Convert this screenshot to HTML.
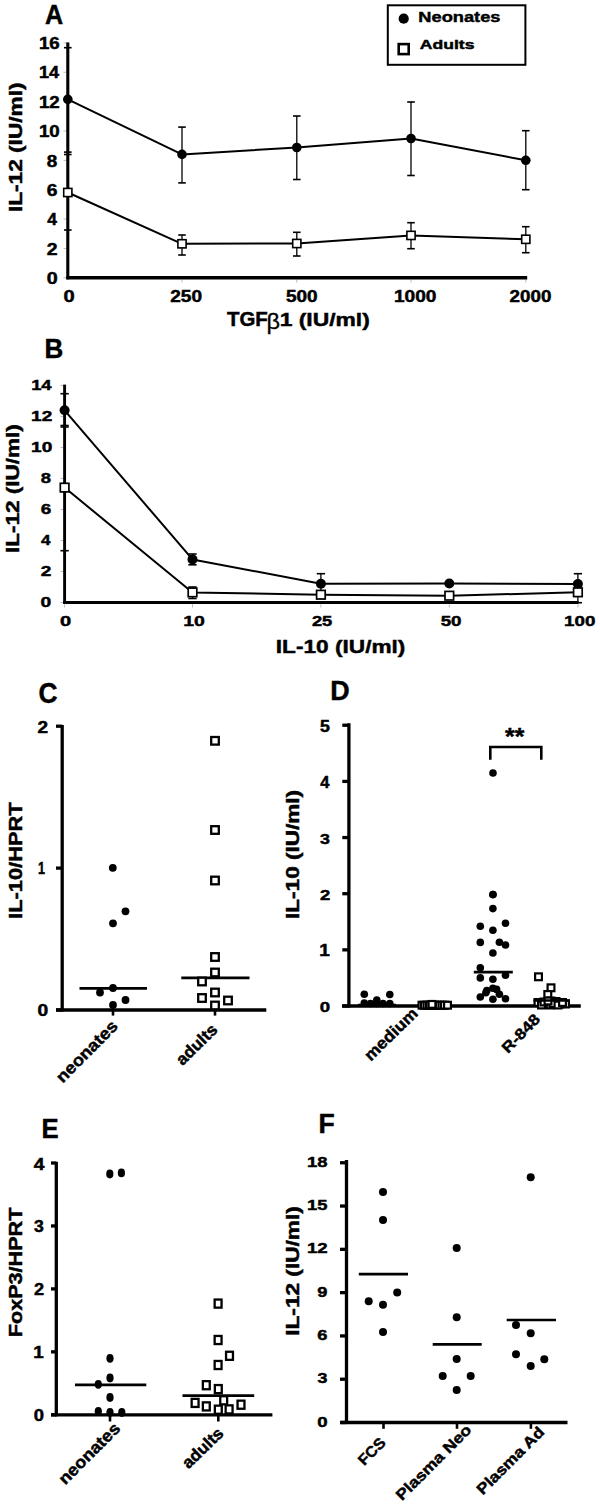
<!DOCTYPE html>
<html><head><meta charset="utf-8"><style>
html,body{margin:0;padding:0;background:#fff;}
svg{display:block;}
text{font-family:"Liberation Sans",Arial,sans-serif;font-weight:bold;fill:#000;stroke:#000;stroke-width:0.45px;}
</style></head><body>
<svg width="600" height="1507" viewBox="0 0 600 1507">
<rect width="600" height="1507" fill="#fff"/>
<text transform="translate(45.10,24.00) scale(0.9355,1)" font-size="26.88">A</text>
<line x1="63.50" y1="277.80" x2="66.50" y2="277.80" stroke="#bbb" stroke-width="1"/>
<line x1="63.50" y1="248.44" x2="66.50" y2="248.44" stroke="#bbb" stroke-width="1"/>
<line x1="63.50" y1="219.08" x2="66.50" y2="219.08" stroke="#bbb" stroke-width="1"/>
<line x1="63.50" y1="189.72" x2="66.50" y2="189.72" stroke="#bbb" stroke-width="1"/>
<line x1="63.50" y1="160.36" x2="66.50" y2="160.36" stroke="#bbb" stroke-width="1"/>
<line x1="63.50" y1="131.00" x2="66.50" y2="131.00" stroke="#bbb" stroke-width="1"/>
<line x1="63.50" y1="101.64" x2="66.50" y2="101.64" stroke="#bbb" stroke-width="1"/>
<line x1="63.50" y1="72.28" x2="66.50" y2="72.28" stroke="#bbb" stroke-width="1"/>
<line x1="63.50" y1="42.92" x2="66.50" y2="42.92" stroke="#bbb" stroke-width="1"/>
<line x1="182.00" y1="279.50" x2="182.00" y2="282.50" stroke="#bbb" stroke-width="1"/>
<line x1="296.80" y1="279.50" x2="296.80" y2="282.50" stroke="#bbb" stroke-width="1"/>
<line x1="411.00" y1="279.50" x2="411.00" y2="282.50" stroke="#bbb" stroke-width="1"/>
<line x1="525.80" y1="279.50" x2="525.80" y2="282.50" stroke="#bbb" stroke-width="1"/>
<text transform="translate(46.64,284.00) scale(1.2358,1)" font-size="15.93">0</text>
<text transform="translate(46.74,254.64) scale(1.2229,1)" font-size="15.93">2</text>
<text transform="translate(47.16,225.28) scale(1.0815,1)" font-size="16.16">4</text>
<text transform="translate(46.75,195.92) scale(1.2103,1)" font-size="15.93">6</text>
<text transform="translate(46.86,166.56) scale(1.1858,1)" font-size="15.93">8</text>
<text transform="translate(38.91,137.00) scale(1.1775,1)" font-size="15.93">10</text>
<text transform="translate(38.91,107.64) scale(1.1775,1)" font-size="15.93">12</text>
<text transform="translate(38.95,78.28) scale(1.1216,1)" font-size="16.16">14</text>
<text transform="translate(38.91,48.92) scale(1.1717,1)" font-size="15.93">16</text>
<text transform="translate(63.42,301.80) scale(1.2400,1)" font-size="16.21">0</text>
<text transform="translate(170.26,301.80) scale(1.1772,1)" font-size="16.21">250</text>
<text transform="translate(285.95,301.80) scale(1.1735,1)" font-size="16.21">500</text>
<text transform="translate(393.98,301.80) scale(1.1797,1)" font-size="16.21">1000</text>
<text transform="translate(509.56,301.80) scale(1.1632,1)" font-size="16.21">2000</text>
<line x1="67.80" y1="42.40" x2="67.80" y2="279.30" stroke="#000" stroke-width="3.1"/>
<line x1="66.30" y1="277.80" x2="527.20" y2="277.80" stroke="#000" stroke-width="3.4"/>
<line x1="67.80" y1="47.70" x2="67.80" y2="152.10" stroke="#000" stroke-width="1.3"/>
<line x1="64.00" y1="47.70" x2="71.60" y2="47.70" stroke="#000" stroke-width="1.6"/>
<line x1="64.00" y1="152.10" x2="71.60" y2="152.10" stroke="#000" stroke-width="1.6"/>
<line x1="182.00" y1="127.10" x2="182.00" y2="182.90" stroke="#000" stroke-width="1.3"/>
<line x1="178.20" y1="127.10" x2="185.80" y2="127.10" stroke="#000" stroke-width="1.6"/>
<line x1="178.20" y1="182.90" x2="185.80" y2="182.90" stroke="#000" stroke-width="1.6"/>
<line x1="296.80" y1="116.00" x2="296.80" y2="179.50" stroke="#000" stroke-width="1.3"/>
<line x1="293.00" y1="116.00" x2="300.60" y2="116.00" stroke="#000" stroke-width="1.6"/>
<line x1="293.00" y1="179.50" x2="300.60" y2="179.50" stroke="#000" stroke-width="1.6"/>
<line x1="411.00" y1="102.00" x2="411.00" y2="175.50" stroke="#000" stroke-width="1.3"/>
<line x1="407.20" y1="102.00" x2="414.80" y2="102.00" stroke="#000" stroke-width="1.6"/>
<line x1="407.20" y1="175.50" x2="414.80" y2="175.50" stroke="#000" stroke-width="1.6"/>
<line x1="525.80" y1="130.70" x2="525.80" y2="189.70" stroke="#000" stroke-width="1.3"/>
<line x1="522.00" y1="130.70" x2="529.60" y2="130.70" stroke="#000" stroke-width="1.6"/>
<line x1="522.00" y1="189.70" x2="529.60" y2="189.70" stroke="#000" stroke-width="1.6"/>
<line x1="67.80" y1="154.50" x2="67.80" y2="230.00" stroke="#000" stroke-width="1.3"/>
<line x1="64.00" y1="154.50" x2="71.60" y2="154.50" stroke="#000" stroke-width="1.6"/>
<line x1="64.00" y1="230.00" x2="71.60" y2="230.00" stroke="#000" stroke-width="1.6"/>
<line x1="182.00" y1="235.00" x2="182.00" y2="255.00" stroke="#000" stroke-width="1.3"/>
<line x1="178.20" y1="235.00" x2="185.80" y2="235.00" stroke="#000" stroke-width="1.6"/>
<line x1="178.20" y1="255.00" x2="185.80" y2="255.00" stroke="#000" stroke-width="1.6"/>
<line x1="296.80" y1="232.30" x2="296.80" y2="256.00" stroke="#000" stroke-width="1.3"/>
<line x1="293.00" y1="232.30" x2="300.60" y2="232.30" stroke="#000" stroke-width="1.6"/>
<line x1="293.00" y1="256.00" x2="300.60" y2="256.00" stroke="#000" stroke-width="1.6"/>
<line x1="411.00" y1="222.70" x2="411.00" y2="248.70" stroke="#000" stroke-width="1.3"/>
<line x1="407.20" y1="222.70" x2="414.80" y2="222.70" stroke="#000" stroke-width="1.6"/>
<line x1="407.20" y1="248.70" x2="414.80" y2="248.70" stroke="#000" stroke-width="1.6"/>
<line x1="525.80" y1="226.70" x2="525.80" y2="252.70" stroke="#000" stroke-width="1.3"/>
<line x1="522.00" y1="226.70" x2="529.60" y2="226.70" stroke="#000" stroke-width="1.6"/>
<line x1="522.00" y1="252.70" x2="529.60" y2="252.70" stroke="#000" stroke-width="1.6"/>
<polyline fill="none" stroke="#000" stroke-width="2" stroke-linejoin="round" points="67.80,99.30 182.00,154.40 296.80,147.50 411.00,138.50 525.80,160.30"/>
<polyline fill="none" stroke="#000" stroke-width="2" stroke-linejoin="round" points="67.80,192.50 182.00,243.80 296.80,243.50 411.00,235.40 525.80,239.30"/>
<circle cx="67.80" cy="99.30" r="4.8"/>
<circle cx="182.00" cy="154.40" r="4.8"/>
<circle cx="296.80" cy="147.50" r="4.8"/>
<circle cx="411.00" cy="138.50" r="4.8"/>
<circle cx="525.80" cy="160.30" r="4.8"/>
<rect x="63.70" y="188.40" width="8.20" height="8.20" fill="#fff" stroke="#000" stroke-width="1.6"/>
<rect x="177.90" y="239.70" width="8.20" height="8.20" fill="#fff" stroke="#000" stroke-width="1.6"/>
<rect x="292.70" y="239.40" width="8.20" height="8.20" fill="#fff" stroke="#000" stroke-width="1.6"/>
<rect x="406.90" y="231.30" width="8.20" height="8.20" fill="#fff" stroke="#000" stroke-width="1.6"/>
<rect x="521.70" y="235.20" width="8.20" height="8.20" fill="#fff" stroke="#000" stroke-width="1.6"/>
<text transform="translate(226.92,326.30) scale(1.0557,1)" font-size="19.36">TGF</text>
<text transform="translate(266.6,329.3) scale(1.07,1)" font-family="Liberation Serif, serif" font-size="22" style="font-weight:normal;stroke-width:0.3px">&#946;</text>
<text transform="translate(279.64,326.30) scale(1.2245,1)" font-size="18.69">1 (IU/ml)</text>
<text transform="translate(21.90,210.58) rotate(-90) scale(1.2208,1)" x="-1.21" font-size="18.55">IL-12 (IU/ml)</text>
<rect x="387.8" y="5.3" width="137.6" height="59.5" fill="none" stroke="#000" stroke-width="2"/>
<circle cx="403.70" cy="18.70" r="5.1"/>
<rect x="398.70" y="44.10" width="10.00" height="10.00" fill="#fff" stroke="#000" stroke-width="2.6"/>
<text transform="translate(418.34,22.20) scale(1.2056,1)" font-size="15.14">Neonates</text>
<text transform="translate(419.79,48.90) scale(1.3077,1)" font-size="13.45">Adults</text>
<text transform="translate(44.54,358.00) scale(0.9411,1)" font-size="27.61">B</text>
<line x1="60.50" y1="602.50" x2="63.50" y2="602.50" stroke="#bbb" stroke-width="1"/>
<line x1="60.50" y1="571.50" x2="63.50" y2="571.50" stroke="#bbb" stroke-width="1"/>
<line x1="60.50" y1="540.50" x2="63.50" y2="540.50" stroke="#bbb" stroke-width="1"/>
<line x1="60.50" y1="509.50" x2="63.50" y2="509.50" stroke="#bbb" stroke-width="1"/>
<line x1="60.50" y1="478.50" x2="63.50" y2="478.50" stroke="#bbb" stroke-width="1"/>
<line x1="60.50" y1="447.50" x2="63.50" y2="447.50" stroke="#bbb" stroke-width="1"/>
<line x1="60.50" y1="416.50" x2="63.50" y2="416.50" stroke="#bbb" stroke-width="1"/>
<line x1="60.50" y1="385.50" x2="63.50" y2="385.50" stroke="#bbb" stroke-width="1"/>
<line x1="64.60" y1="604.20" x2="64.60" y2="607.50" stroke="#bbb" stroke-width="1"/>
<line x1="192.50" y1="604.20" x2="192.50" y2="607.50" stroke="#bbb" stroke-width="1"/>
<line x1="320.90" y1="604.20" x2="320.90" y2="607.50" stroke="#bbb" stroke-width="1"/>
<line x1="449.30" y1="604.20" x2="449.30" y2="607.50" stroke="#bbb" stroke-width="1"/>
<line x1="577.90" y1="604.20" x2="577.90" y2="607.50" stroke="#bbb" stroke-width="1"/>
<text transform="translate(40.55,607.25) scale(1.2904,1)" font-size="14.93">0</text>
<text transform="translate(40.66,576.25) scale(1.2769,1)" font-size="14.93">2</text>
<text transform="translate(41.07,545.25) scale(1.1293,1)" font-size="15.14">4</text>
<text transform="translate(40.66,514.25) scale(1.2637,1)" font-size="14.93">6</text>
<text transform="translate(40.77,483.25) scale(1.2382,1)" font-size="14.93">8</text>
<text transform="translate(31.09,452.25) scale(1.2764,1)" font-size="14.93">10</text>
<text transform="translate(31.09,421.25) scale(1.2764,1)" font-size="14.93">12</text>
<text transform="translate(31.13,390.25) scale(1.2158,1)" font-size="15.14">14</text>
<text transform="translate(59.92,626.40) scale(1.3215,1)" font-size="15.21">0</text>
<text transform="translate(183.26,626.40) scale(1.2786,1)" font-size="15.21">10</text>
<text transform="translate(311.88,626.40) scale(1.2050,1)" font-size="15.21">25</text>
<text transform="translate(440.66,626.40) scale(1.2356,1)" font-size="15.21">50</text>
<text transform="translate(564.11,626.40) scale(1.2324,1)" font-size="15.21">100</text>
<line x1="64.60" y1="384.60" x2="64.60" y2="603.80" stroke="#000" stroke-width="2.9"/>
<line x1="63.20" y1="602.50" x2="578.50" y2="602.50" stroke="#000" stroke-width="3.0"/>
<line x1="64.60" y1="393.70" x2="64.60" y2="427.00" stroke="#000" stroke-width="1.3"/>
<line x1="60.45" y1="393.70" x2="68.75" y2="393.70" stroke="#000" stroke-width="1.6"/>
<line x1="60.45" y1="427.00" x2="68.75" y2="427.00" stroke="#000" stroke-width="1.6"/>
<line x1="192.50" y1="554.00" x2="192.50" y2="564.80" stroke="#000" stroke-width="1.3"/>
<line x1="188.35" y1="554.00" x2="196.65" y2="554.00" stroke="#000" stroke-width="1.6"/>
<line x1="188.35" y1="564.80" x2="196.65" y2="564.80" stroke="#000" stroke-width="1.6"/>
<line x1="320.90" y1="573.70" x2="320.90" y2="593.70" stroke="#000" stroke-width="1.3"/>
<line x1="316.75" y1="573.70" x2="325.05" y2="573.70" stroke="#000" stroke-width="1.6"/>
<line x1="316.75" y1="593.70" x2="325.05" y2="593.70" stroke="#000" stroke-width="1.6"/>
<line x1="577.90" y1="573.70" x2="577.90" y2="594.30" stroke="#000" stroke-width="1.3"/>
<line x1="573.75" y1="573.70" x2="582.05" y2="573.70" stroke="#000" stroke-width="1.6"/>
<line x1="573.75" y1="594.30" x2="582.05" y2="594.30" stroke="#000" stroke-width="1.6"/>
<line x1="64.60" y1="425.50" x2="64.60" y2="550.70" stroke="#000" stroke-width="1.3"/>
<line x1="60.45" y1="425.50" x2="68.75" y2="425.50" stroke="#000" stroke-width="1.6"/>
<line x1="60.45" y1="550.70" x2="68.75" y2="550.70" stroke="#000" stroke-width="1.6"/>
<line x1="192.50" y1="587.00" x2="192.50" y2="598.50" stroke="#000" stroke-width="1.3"/>
<line x1="188.35" y1="587.00" x2="196.65" y2="587.00" stroke="#000" stroke-width="1.6"/>
<line x1="188.35" y1="598.50" x2="196.65" y2="598.50" stroke="#000" stroke-width="1.6"/>
<line x1="320.90" y1="591.00" x2="320.90" y2="598.50" stroke="#000" stroke-width="1.3"/>
<line x1="316.75" y1="591.00" x2="325.05" y2="591.00" stroke="#000" stroke-width="1.6"/>
<line x1="316.75" y1="598.50" x2="325.05" y2="598.50" stroke="#000" stroke-width="1.6"/>
<line x1="577.90" y1="582.00" x2="577.90" y2="602.70" stroke="#000" stroke-width="1.3"/>
<line x1="573.75" y1="582.00" x2="582.05" y2="582.00" stroke="#000" stroke-width="1.6"/>
<line x1="573.75" y1="602.70" x2="582.05" y2="602.70" stroke="#000" stroke-width="1.6"/>
<polyline fill="none" stroke="#000" stroke-width="2" stroke-linejoin="round" points="64.60,410.30 192.50,559.40 320.90,583.70 449.30,583.50 577.90,584.00"/>
<polyline fill="none" stroke="#000" stroke-width="2" stroke-linejoin="round" points="64.60,487.60 192.50,592.40 320.90,594.70 449.30,595.70 577.90,592.30"/>
<circle cx="64.60" cy="410.30" r="5.0"/>
<circle cx="192.50" cy="559.40" r="5.0"/>
<circle cx="320.90" cy="583.70" r="5.0"/>
<circle cx="449.30" cy="583.50" r="5.0"/>
<circle cx="577.90" cy="584.00" r="5.0"/>
<rect x="60.30" y="483.30" width="8.60" height="8.60" fill="#fff" stroke="#000" stroke-width="1.7"/>
<rect x="188.20" y="588.10" width="8.60" height="8.60" fill="#fff" stroke="#000" stroke-width="1.7"/>
<rect x="316.60" y="590.40" width="8.60" height="8.60" fill="#fff" stroke="#000" stroke-width="1.7"/>
<rect x="445.00" y="591.40" width="8.60" height="8.60" fill="#fff" stroke="#000" stroke-width="1.7"/>
<rect x="573.60" y="588.00" width="8.60" height="8.60" fill="#fff" stroke="#000" stroke-width="1.7"/>
<text transform="translate(275.75,653.30) scale(1.2127,1)" font-size="18.69">IL-10 (IU/ml)</text>
<text transform="translate(18.90,551.48) rotate(-90) scale(1.2231,1)" x="-1.20" font-size="18.41">IL-12 (IU/ml)</text>
<text transform="translate(38.47,703.20) scale(0.9104,1)" font-size="28.93">C</text>
<text transform="translate(37.45,1016.30) scale(1.2093,1)" font-size="15.93">0</text>
<line x1="56.00" y1="1010.00" x2="62.20" y2="1010.00" stroke="#000" stroke-width="3.3"/>
<text transform="translate(38.11,874.20) scale(0.7785,1)" font-size="16.16">1</text>
<line x1="56.00" y1="868.10" x2="62.20" y2="868.10" stroke="#000" stroke-width="3.3"/>
<text transform="translate(37.56,732.50) scale(1.1967,1)" font-size="15.93">2</text>
<line x1="56.00" y1="726.20" x2="62.20" y2="726.20" stroke="#000" stroke-width="3.3"/>
<line x1="62.20" y1="725.00" x2="62.20" y2="1011.50" stroke="#000" stroke-width="3.3"/>
<line x1="56.00" y1="1010.00" x2="266.30" y2="1010.00" stroke="#000" stroke-width="3.3"/>
<line x1="113.00" y1="1010.00" x2="113.00" y2="1015.60" stroke="#000" stroke-width="2.6"/>
<line x1="215.00" y1="1010.00" x2="215.00" y2="1015.60" stroke="#000" stroke-width="2.6"/>
<line x1="79.50" y1="988.30" x2="147.00" y2="988.30" stroke="#000" stroke-width="2.7"/>
<line x1="181.30" y1="977.80" x2="249.50" y2="977.80" stroke="#000" stroke-width="2.7"/>
<circle cx="112.80" cy="867.80" r="3.9"/>
<circle cx="125.50" cy="911.30" r="3.9"/>
<circle cx="113.00" cy="923.30" r="3.9"/>
<circle cx="100.00" cy="992.50" r="3.9"/>
<circle cx="113.00" cy="988.00" r="3.9"/>
<circle cx="125.50" cy="1000.00" r="3.9"/>
<circle cx="113.00" cy="1005.00" r="3.9"/>
<rect x="211.20" y="737.00" width="7.60" height="7.60" fill="#fff" stroke="#000" stroke-width="2.3"/>
<rect x="211.20" y="826.20" width="7.60" height="7.60" fill="#fff" stroke="#000" stroke-width="2.3"/>
<rect x="211.20" y="876.70" width="7.60" height="7.60" fill="#fff" stroke="#000" stroke-width="2.3"/>
<rect x="211.20" y="953.20" width="7.60" height="7.60" fill="#fff" stroke="#000" stroke-width="2.3"/>
<rect x="211.20" y="968.70" width="7.60" height="7.60" fill="#fff" stroke="#000" stroke-width="2.3"/>
<rect x="198.20" y="977.70" width="7.60" height="7.60" fill="#fff" stroke="#000" stroke-width="2.3"/>
<rect x="211.20" y="988.70" width="7.60" height="7.60" fill="#fff" stroke="#000" stroke-width="2.3"/>
<rect x="198.20" y="994.20" width="7.60" height="7.60" fill="#fff" stroke="#000" stroke-width="2.3"/>
<rect x="224.20" y="996.70" width="7.60" height="7.60" fill="#fff" stroke="#000" stroke-width="2.3"/>
<rect x="211.20" y="1001.70" width="7.60" height="7.60" fill="#fff" stroke="#000" stroke-width="2.3"/>
<text transform="translate(22.00,917.48) rotate(-90) scale(1.2095,1)" x="-1.17" font-size="18.07">IL-10/HPRT</text>
<text transform="translate(63.60,1082.80) rotate(-45.21) scale(1.0805,1)" x="-1.09" font-size="16.80">neonates</text>
<text transform="translate(182.80,1065.80) rotate(-44.18) scale(1.0220,1)" x="-0.50" font-size="16.80">adults</text>
<text transform="translate(330.18,700.30) scale(0.9498,1)" font-size="28.33">D</text>
<text transform="translate(319.78,1012.40) scale(1.2132,1)" font-size="15.36">0</text>
<line x1="342.30" y1="1006.00" x2="348.90" y2="1006.00" stroke="#000" stroke-width="3.3"/>
<text transform="translate(319.29,956.25) scale(1.2216,1)" font-size="15.58">1</text>
<line x1="342.30" y1="949.85" x2="348.90" y2="949.85" stroke="#000" stroke-width="3.3"/>
<text transform="translate(319.88,900.10) scale(1.2006,1)" font-size="15.36">2</text>
<line x1="342.30" y1="893.70" x2="348.90" y2="893.70" stroke="#000" stroke-width="3.3"/>
<text transform="translate(320.08,843.95) scale(1.1642,1)" font-size="15.36">3</text>
<line x1="342.30" y1="837.55" x2="348.90" y2="837.55" stroke="#000" stroke-width="3.3"/>
<text transform="translate(320.28,787.80) scale(1.0618,1)" font-size="15.58">4</text>
<line x1="342.30" y1="781.40" x2="348.90" y2="781.40" stroke="#000" stroke-width="3.3"/>
<text transform="translate(319.99,731.65) scale(1.1361,1)" font-size="15.58">5</text>
<line x1="342.30" y1="725.25" x2="348.90" y2="725.25" stroke="#000" stroke-width="3.3"/>
<line x1="348.90" y1="723.30" x2="348.90" y2="1007.50" stroke="#000" stroke-width="3.3"/>
<line x1="342.00" y1="1006.00" x2="580.80" y2="1006.00" stroke="#000" stroke-width="3.3"/>
<polyline fill="none" stroke="#000" stroke-width="2.6" points="490.3,759.7 490.3,747.0 541.3,747.0 541.3,759.7"/>
<text transform="translate(505.10,744.89) scale(1.0004,1)" font-size="24.73">**</text>
<circle cx="364.30" cy="994.20" r="3.8"/>
<circle cx="389.80" cy="994.50" r="3.8"/>
<circle cx="364.30" cy="1003.00" r="3.8"/>
<circle cx="370.50" cy="1003.50" r="3.8"/>
<circle cx="376.80" cy="1000.00" r="3.8"/>
<circle cx="383.00" cy="1003.50" r="3.8"/>
<circle cx="389.80" cy="1003.50" r="3.8"/>
<circle cx="376.80" cy="1003.50" r="3.8"/>
<line x1="358.00" y1="1005.00" x2="396.00" y2="1005.00" stroke="#000" stroke-width="2.7"/>
<rect x="418.60" y="1001.80" width="6.80" height="6.80" fill="#fff" stroke="#000" stroke-width="2.2"/>
<rect x="421.10" y="1001.80" width="6.80" height="6.80" fill="#fff" stroke="#000" stroke-width="2.2"/>
<rect x="423.60" y="1001.80" width="6.80" height="6.80" fill="#fff" stroke="#000" stroke-width="2.2"/>
<rect x="426.10" y="1001.80" width="6.80" height="6.80" fill="#fff" stroke="#000" stroke-width="2.2"/>
<rect x="428.60" y="1001.80" width="6.80" height="6.80" fill="#fff" stroke="#000" stroke-width="2.2"/>
<rect x="431.10" y="1001.80" width="6.80" height="6.80" fill="#fff" stroke="#000" stroke-width="2.2"/>
<rect x="433.60" y="1001.80" width="6.80" height="6.80" fill="#fff" stroke="#000" stroke-width="2.2"/>
<rect x="436.10" y="1001.80" width="6.80" height="6.80" fill="#fff" stroke="#000" stroke-width="2.2"/>
<rect x="438.60" y="1001.80" width="6.80" height="6.80" fill="#fff" stroke="#000" stroke-width="2.2"/>
<rect x="441.10" y="1001.80" width="6.80" height="6.80" fill="#fff" stroke="#000" stroke-width="2.2"/>
<rect x="444.10" y="1001.80" width="6.80" height="6.80" fill="#fff" stroke="#000" stroke-width="2.2"/>
<rect x="428.60" y="1001.00" width="6.80" height="6.80" fill="#fff" stroke="#000" stroke-width="2.2"/>
<circle cx="492.90" cy="894.50" r="3.8"/>
<circle cx="492.90" cy="908.60" r="3.8"/>
<circle cx="480.30" cy="926.20" r="3.8"/>
<circle cx="505.50" cy="923.30" r="3.8"/>
<circle cx="492.90" cy="930.30" r="3.8"/>
<circle cx="480.30" cy="942.40" r="3.8"/>
<circle cx="499.40" cy="942.20" r="3.8"/>
<circle cx="505.50" cy="945.00" r="3.8"/>
<circle cx="492.90" cy="953.00" r="3.8"/>
<circle cx="480.30" cy="967.80" r="3.8"/>
<circle cx="480.30" cy="977.90" r="3.8"/>
<circle cx="492.90" cy="979.20" r="3.8"/>
<circle cx="505.50" cy="975.30" r="3.8"/>
<circle cx="486.80" cy="990.50" r="3.8"/>
<circle cx="492.90" cy="988.30" r="3.8"/>
<circle cx="496.60" cy="989.40" r="3.8"/>
<circle cx="480.30" cy="997.00" r="3.8"/>
<circle cx="492.90" cy="999.20" r="3.8"/>
<circle cx="499.40" cy="994.20" r="3.8"/>
<circle cx="505.50" cy="998.70" r="3.8"/>
<circle cx="485.80" cy="992.70" r="3.8"/>
<circle cx="493.00" cy="773.00" r="3.8"/>
<circle cx="493.00" cy="894.60" r="3.8"/>
<line x1="473.80" y1="972.10" x2="512.80" y2="972.10" stroke="#000" stroke-width="2.7"/>
<rect x="535.10" y="973.40" width="6.80" height="6.80" fill="#fff" stroke="#000" stroke-width="2.2"/>
<rect x="547.60" y="984.40" width="6.80" height="6.80" fill="#fff" stroke="#000" stroke-width="2.2"/>
<rect x="544.40" y="991.10" width="6.80" height="6.80" fill="#fff" stroke="#000" stroke-width="2.2"/>
<rect x="534.60" y="999.10" width="6.80" height="6.80" fill="#fff" stroke="#000" stroke-width="2.2"/>
<rect x="542.60" y="999.60" width="6.80" height="6.80" fill="#fff" stroke="#000" stroke-width="2.2"/>
<rect x="547.60" y="997.60" width="6.80" height="6.80" fill="#fff" stroke="#000" stroke-width="2.2"/>
<rect x="552.60" y="998.10" width="6.80" height="6.80" fill="#fff" stroke="#000" stroke-width="2.2"/>
<rect x="556.60" y="1000.60" width="6.80" height="6.80" fill="#fff" stroke="#000" stroke-width="2.2"/>
<rect x="562.10" y="1000.60" width="6.80" height="6.80" fill="#fff" stroke="#000" stroke-width="2.2"/>
<rect x="546.60" y="1001.60" width="6.80" height="6.80" fill="#fff" stroke="#000" stroke-width="2.2"/>
<rect x="538.10" y="1001.60" width="6.80" height="6.80" fill="#fff" stroke="#000" stroke-width="2.2"/>
<rect x="540.60" y="998.60" width="6.80" height="6.80" fill="#fff" stroke="#000" stroke-width="2.2"/>
<rect x="549.60" y="1000.10" width="6.80" height="6.80" fill="#fff" stroke="#000" stroke-width="2.2"/>
<rect x="554.60" y="1001.60" width="6.80" height="6.80" fill="#fff" stroke="#000" stroke-width="2.2"/>
<rect x="559.10" y="999.10" width="6.80" height="6.80" fill="#fff" stroke="#000" stroke-width="2.2"/>
<rect x="544.60" y="997.60" width="6.80" height="6.80" fill="#fff" stroke="#000" stroke-width="2.2"/>
<line x1="533.50" y1="1000.50" x2="570.00" y2="1000.50" stroke="#000" stroke-width="2.7"/>
<text transform="translate(298.90,917.48) rotate(-90) scale(1.2532,1)" x="-1.17" font-size="18.00">IL-10 (IU/ml)</text>
<text transform="translate(371.50,1061.00) rotate(-44.50) scale(1.0796,1)" x="-1.06" font-size="16.30">medium</text>
<text transform="translate(508.70,1053.20) rotate(-45.62) scale(1.1445,1)" x="-0.99" font-size="15.20">R-848</text>
<text transform="translate(41.55,1138.00) scale(0.9231,1)" font-size="27.90">E</text>
<text transform="translate(33.79,1420.90) scale(1.1565,1)" font-size="15.93">0</text>
<line x1="51.00" y1="1414.80" x2="56.30" y2="1414.80" stroke="#000" stroke-width="3.3"/>
<text transform="translate(33.30,1357.95) scale(1.1645,1)" font-size="16.16">1</text>
<line x1="51.00" y1="1351.85" x2="56.30" y2="1351.85" stroke="#000" stroke-width="3.3"/>
<text transform="translate(33.89,1295.00) scale(1.1444,1)" font-size="15.93">2</text>
<line x1="51.00" y1="1288.90" x2="56.30" y2="1288.90" stroke="#000" stroke-width="3.3"/>
<text transform="translate(34.08,1232.05) scale(1.1098,1)" font-size="15.93">3</text>
<line x1="51.00" y1="1225.95" x2="56.30" y2="1225.95" stroke="#000" stroke-width="3.3"/>
<text transform="translate(33.69,1169.50) scale(1.1914,1)" font-size="16.16">4</text>
<line x1="51.00" y1="1163.00" x2="56.30" y2="1163.00" stroke="#000" stroke-width="3.3"/>
<line x1="56.30" y1="1161.80" x2="56.30" y2="1416.30" stroke="#000" stroke-width="3.3"/>
<line x1="51.00" y1="1414.80" x2="272.40" y2="1414.80" stroke="#000" stroke-width="3.3"/>
<line x1="110.00" y1="1414.80" x2="110.00" y2="1421.50" stroke="#000" stroke-width="2.6"/>
<line x1="218.30" y1="1414.80" x2="218.30" y2="1421.50" stroke="#000" stroke-width="2.6"/>
<line x1="75.00" y1="1384.80" x2="146.30" y2="1384.80" stroke="#000" stroke-width="2.7"/>
<line x1="182.50" y1="1395.70" x2="254.20" y2="1395.70" stroke="#000" stroke-width="2.7"/>
<ellipse cx="109.80" cy="1174.00" rx="3.6" ry="4.4"/>
<ellipse cx="121.40" cy="1172.90" rx="3.6" ry="4.4"/>
<ellipse cx="110.00" cy="1358.30" rx="3.6" ry="4.4"/>
<ellipse cx="110.00" cy="1378.00" rx="3.6" ry="4.4"/>
<ellipse cx="98.30" cy="1384.30" rx="3.6" ry="4.4"/>
<ellipse cx="110.00" cy="1397.50" rx="3.6" ry="4.4"/>
<ellipse cx="98.30" cy="1411.30" rx="3.6" ry="4.4"/>
<ellipse cx="110.00" cy="1412.50" rx="3.6" ry="4.4"/>
<ellipse cx="121.80" cy="1412.50" rx="3.6" ry="4.4"/>
<rect x="214.65" y="1299.55" width="6.90" height="8.10" fill="#fff" stroke="#000" stroke-width="2.3"/>
<rect x="214.65" y="1335.95" width="6.90" height="8.10" fill="#fff" stroke="#000" stroke-width="2.3"/>
<rect x="226.05" y="1351.75" width="6.90" height="8.10" fill="#fff" stroke="#000" stroke-width="2.3"/>
<rect x="214.65" y="1360.95" width="6.90" height="8.10" fill="#fff" stroke="#000" stroke-width="2.3"/>
<rect x="202.85" y="1381.15" width="6.90" height="8.10" fill="#fff" stroke="#000" stroke-width="2.3"/>
<rect x="214.85" y="1385.05" width="6.90" height="8.10" fill="#fff" stroke="#000" stroke-width="2.3"/>
<rect x="191.65" y="1398.85" width="6.90" height="8.10" fill="#fff" stroke="#000" stroke-width="2.3"/>
<rect x="202.85" y="1402.35" width="6.90" height="8.10" fill="#fff" stroke="#000" stroke-width="2.3"/>
<rect x="220.25" y="1396.25" width="6.90" height="8.10" fill="#fff" stroke="#000" stroke-width="2.3"/>
<rect x="214.85" y="1405.65" width="6.90" height="8.10" fill="#fff" stroke="#000" stroke-width="2.3"/>
<rect x="225.65" y="1405.35" width="6.90" height="8.10" fill="#fff" stroke="#000" stroke-width="2.3"/>
<rect x="237.55" y="1400.65" width="6.90" height="8.10" fill="#fff" stroke="#000" stroke-width="2.3"/>
<text transform="translate(22.00,1335.78) rotate(-90) scale(1.1951,1)" x="-1.17" font-size="18.07">FoxP3/HPRT</text>
<text transform="translate(66.00,1484.60) rotate(-44.90) scale(1.0746,1)" x="-1.09" font-size="16.80">neonates</text>
<text transform="translate(188.80,1469.20) rotate(-44.01) scale(1.0191,1)" x="-0.50" font-size="16.80">adults</text>
<text transform="translate(318.50,1133.00) scale(0.9523,1)" font-size="27.90">F</text>
<text transform="translate(317.18,1426.55) scale(1.2480,1)" font-size="14.93">0</text>
<line x1="340.00" y1="1422.50" x2="346.50" y2="1422.50" stroke="#000" stroke-width="3.3"/>
<text transform="translate(317.48,1383.26) scale(1.1976,1)" font-size="14.93">3</text>
<line x1="340.00" y1="1379.21" x2="346.50" y2="1379.21" stroke="#000" stroke-width="3.3"/>
<text transform="translate(317.29,1339.97) scale(1.2223,1)" font-size="14.93">6</text>
<line x1="340.00" y1="1335.92" x2="346.50" y2="1335.92" stroke="#000" stroke-width="3.3"/>
<text transform="translate(317.29,1296.68) scale(1.2223,1)" font-size="14.93">9</text>
<line x1="340.00" y1="1292.63" x2="346.50" y2="1292.63" stroke="#000" stroke-width="3.3"/>
<text transform="translate(306.91,1253.19) scale(1.2497,1)" font-size="14.93">12</text>
<line x1="340.00" y1="1249.34" x2="346.50" y2="1249.34" stroke="#000" stroke-width="3.3"/>
<text transform="translate(306.93,1209.90) scale(1.2138,1)" font-size="15.14">15</text>
<line x1="340.00" y1="1206.05" x2="346.50" y2="1206.05" stroke="#000" stroke-width="3.3"/>
<text transform="translate(306.92,1166.61) scale(1.2374,1)" font-size="14.93">18</text>
<line x1="340.00" y1="1162.76" x2="346.50" y2="1162.76" stroke="#000" stroke-width="3.3"/>
<line x1="346.50" y1="1160.00" x2="346.50" y2="1424.00" stroke="#000" stroke-width="3.3"/>
<line x1="340.50" y1="1422.50" x2="567.50" y2="1422.50" stroke="#000" stroke-width="3.3"/>
<line x1="383.50" y1="1422.50" x2="383.50" y2="1428.80" stroke="#000" stroke-width="2.6"/>
<line x1="457.00" y1="1422.50" x2="457.00" y2="1428.80" stroke="#000" stroke-width="2.6"/>
<line x1="530.90" y1="1422.50" x2="530.90" y2="1428.80" stroke="#000" stroke-width="2.6"/>
<line x1="358.80" y1="1274.20" x2="408.00" y2="1274.20" stroke="#000" stroke-width="2.7"/>
<line x1="432.70" y1="1344.30" x2="481.70" y2="1344.30" stroke="#000" stroke-width="2.7"/>
<line x1="506.70" y1="1320.00" x2="556.00" y2="1320.00" stroke="#000" stroke-width="2.7"/>
<circle cx="383.00" cy="1192.00" r="4.0"/>
<circle cx="383.00" cy="1220.00" r="4.0"/>
<circle cx="368.70" cy="1301.20" r="4.0"/>
<circle cx="383.00" cy="1304.70" r="4.0"/>
<circle cx="397.20" cy="1292.50" r="4.0"/>
<circle cx="383.00" cy="1332.00" r="4.0"/>
<circle cx="456.70" cy="1248.00" r="4.0"/>
<circle cx="456.70" cy="1317.30" r="4.0"/>
<circle cx="456.70" cy="1359.00" r="4.0"/>
<circle cx="442.70" cy="1376.00" r="4.0"/>
<circle cx="470.70" cy="1376.00" r="4.0"/>
<circle cx="456.70" cy="1390.00" r="4.0"/>
<circle cx="530.70" cy="1177.30" r="4.0"/>
<circle cx="516.00" cy="1325.00" r="4.0"/>
<circle cx="530.70" cy="1333.30" r="4.0"/>
<circle cx="516.00" cy="1354.30" r="4.0"/>
<circle cx="530.70" cy="1366.00" r="4.0"/>
<circle cx="544.30" cy="1359.30" r="4.0"/>
<text transform="translate(298.60,1334.28) rotate(-90) scale(1.2582,1)" x="-1.17" font-size="18.00">IL-12 (IU/ml)</text>
<text transform="translate(365.00,1465.60) rotate(-45.54) scale(1.0480,1)" x="-0.99" font-size="15.20">FCS</text>
<text transform="translate(402.80,1500.50) rotate(-45.00) scale(1.1569,1)" x="-0.99" font-size="15.20">Plasma Neo</text>
<text transform="translate(483.50,1494.80) rotate(-45.00) scale(1.1477,1)" x="-0.99" font-size="15.20">Plasma Ad</text>
</svg>
</body></html>
